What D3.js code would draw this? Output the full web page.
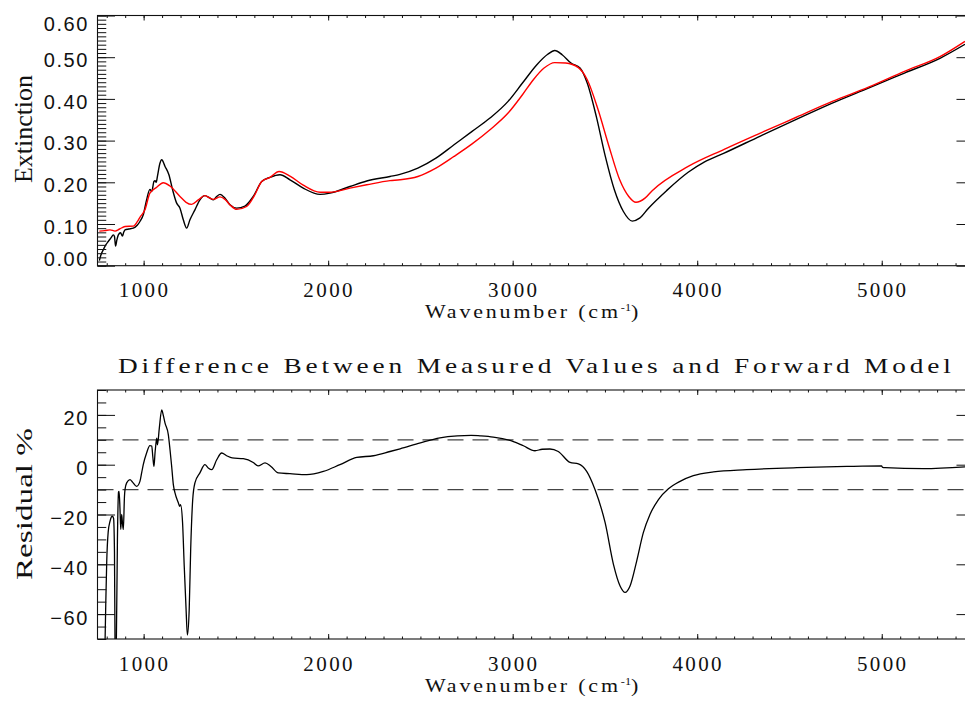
<!DOCTYPE html>
<html>
<head>
<meta charset="utf-8">
<script src="https://cdn.jsdelivr.net/npm/d3@7/dist/d3.min.js"></script>
<style>
  body { margin: 0; background: #fff; }
  svg { display: block; }
</style>
</head>
<body>
<svg id="chart" width="965" height="703"></svg>
<script>
// ---- Measured extinction spectrum (black) ----
const measuredWave = [760, 768, 781, 795, 808, 822, 836, 842, 848, 855, 863, 875, 885, 892, 899, 920, 944, 965, 980, 998,
  1016, 1034, 1044, 1056, 1062, 1068, 1075, 1088, 1098, 1116, 1137, 1157, 1179, 1197, 1215, 1233, 1251, 1278, 1305, 1332,
  1360, 1378, 1396, 1414, 1441, 1468, 1504, 1549, 1594, 1640, 1685, 1739, 1793, 1865, 1956, 2010, 2118, 2209, 2335, 2389,
  2486, 2584, 2682, 2780, 2877, 2975, 3053, 3131, 3190, 3228, 3268, 3316, 3365, 3404, 3453, 3502, 3551, 3600, 3648, 3688,
  3736, 3834, 3951, 4040, 4146, 4342, 4537, 4732, 4928, 5123, 5318, 5451];
const measuredExt = [0.012, 0.025, 0.038, 0.050, 0.058, 0.066, 0.074, 0.070, 0.047, 0.062, 0.074, 0.079, 0.071, 0.080, 0.086, 0.088, 0.090, 0.097, 0.106, 0.122,
  0.158, 0.183, 0.178, 0.202, 0.204, 0.200, 0.215, 0.245, 0.254, 0.238, 0.218, 0.182, 0.150, 0.138, 0.110, 0.090, 0.110, 0.134, 0.158, 0.168,
  0.162, 0.158, 0.166, 0.171, 0.162, 0.146, 0.138, 0.143, 0.166, 0.202, 0.212, 0.218, 0.206, 0.186, 0.171, 0.174, 0.190, 0.203, 0.214, 0.219,
  0.234, 0.258, 0.290, 0.322, 0.354, 0.394, 0.438, 0.482, 0.507, 0.516, 0.506, 0.486, 0.474, 0.438, 0.358, 0.262, 0.182, 0.130, 0.107, 0.114,
  0.138, 0.180, 0.224, 0.249, 0.270, 0.311, 0.351, 0.390, 0.426, 0.462, 0.498, 0.531];

// ---- Forward model (red) ----
const modelWave = [760, 790, 818, 845, 870, 899, 944, 965, 980, 1007, 1034, 1071, 1106, 1143, 1197, 1230, 1260, 1296, 1332, 1355,
  1378, 1414, 1441, 1470, 1504, 1558, 1600, 1640, 1685, 1734, 1793, 1865, 1956, 2010, 2118, 2209, 2335, 2389, 2486, 2584,
  2682, 2780, 2877, 2975, 3053, 3112, 3170, 3228, 3287, 3356, 3404, 3463, 3522, 3580, 3629, 3668, 3717, 3756, 3951, 4146,
  4342, 4537, 4732, 4928, 5123, 5318, 5451];
const modelExt = [0.083, 0.084, 0.086, 0.083, 0.088, 0.094, 0.095, 0.105, 0.116, 0.134, 0.174, 0.188, 0.199, 0.191, 0.166, 0.152, 0.147, 0.158, 0.168, 0.163,
  0.159, 0.165, 0.159, 0.145, 0.135, 0.142, 0.168, 0.202, 0.212, 0.226, 0.215, 0.193, 0.176, 0.176, 0.186, 0.194, 0.204, 0.206, 0.214, 0.234,
  0.262, 0.292, 0.326, 0.366, 0.410, 0.446, 0.474, 0.487, 0.486, 0.475, 0.446, 0.374, 0.286, 0.206, 0.166, 0.152, 0.162, 0.180, 0.238, 0.279,
  0.318, 0.356, 0.394, 0.428, 0.466, 0.502, 0.538];

// ---- Residual, percent ----
const residualWave = [760, 775, 790, 795, 800, 808, 818, 830, 837, 842, 845, 848, 852, 858, 864, 867, 872, 876, 881, 886,
  890, 896, 899, 908, 926, 940, 962, 980, 990, 998, 1016, 1034, 1044, 1050, 1056, 1062, 1065, 1071, 1075, 1085,
  1098, 1106, 1116, 1134, 1143, 1152, 1161, 1170, 1188, 1195, 1200, 1211, 1220, 1230, 1237, 1247, 1255, 1266, 1278, 1305,
  1332, 1350, 1369, 1396, 1423, 1450, 1480, 1540, 1594, 1620, 1658, 1690, 1730, 1793, 1884, 1974, 2064, 2155, 2245, 2335,
  2390, 2500, 2606, 2700, 2775, 2823, 2895, 3004, 3058, 3121, 3160, 3202, 3247, 3311, 3356, 3401, 3446, 3501, 3546, 3582,
  3609, 3636, 3672, 3708, 3744, 3790, 3844, 3907, 3979, 4088, 4268, 4540, 4811, 4999, 5005, 5018, 5226, 5452];
const residualPct = [-350, -150, -75, -55, -39, -27, -22.7, -20.7, -21.5, -35, -72, -80, -72, -30, -11, -10.7, -18, -26, -20, -24,
  -26, -13, -10, -7.3, -6, -7, -8.7, -6.7, -3, 0, 4.7, 7.7, 7.5, 3, -0.7, 5, 7.3, 10.7, 8, 14.7,
  22, 20, 16.7, 12, 6, -0.7, -8, -11.3, -15.3, -16.7, -16, -23.3, -40.7, -58, -68.4, -58, -34, -14, -7.3, -3.3,
  0, -1.3, -2, 2, 4.7, 3.6, 2.7, 2.4, 0.9, -0.5, 0.7, -0.7, -3.3, -3.6, -4, -2.7, 0, 2.9, 3.6, 5.3,
  6.4, 8.8, 10.8, 11.6, 11.8, 11.6, 11.1, 9.3, 7.6, 5.6, 6.2, 6.3, 5.3, 0.9, 0.3, -2.7, -10, -23.3, -40, -48.7,
  -51.3, -48.7, -38.7, -27.3, -20, -14, -9.7, -6.7, -4.4, -2.9, -2, -1.2, -0.7, -0.5, -1.1, -1.2, -1.6, -0.9];

// ---- Axis ticks and labels ----
const waveMajor = [1000, 2000, 3000, 4000, 5000];
const waveLabels = ["1000", "2000", "3000", "4000", "5000"];
const extMajor = [0, 0.1, 0.2, 0.3, 0.4, 0.5, 0.6];
const extLabels = ["0.00", "0.10", "0.20", "0.30", "0.40", "0.50", "0.60"];
const resMajor = [-60, -40, -20, 0, 20];
const resLabels = ["\u221260", "\u221240", "\u221220", "0", "20"];
const residualBands = [-10, 10];

const svg = d3.select("#chart");
svg.append("rect").attr("width", 965).attr("height", 703).attr("fill", "#fff");

const left = 97.5, right = 974;
const panels = {
  top: { top: 15.5, bottom: 265.7 },
  bot: { top: 390, bottom: 639 }
};

const x = d3.scaleLinear().domain([750, 5500]).range([left, right]);
const yExt = d3.scaleLinear().domain([0, 0.6]).range([panels.top.bottom, panels.top.top]);
const yRes = d3.scaleLinear().domain([-70, 30]).range([panels.bot.bottom, panels.bot.top]);

const waveMinor = d3.range(800, 5501, 100);

// Wide, evenly spaced lettering: stretch glyphs by k and pad the rest with letter spacing.
function spread(t, x0, y0, width, k) {
  t.attr("letter-spacing", 0).attr("transform", null);
  const n = t.text().length;
  const w0 = t.node().getComputedTextLength();
  t.attr("letter-spacing", (width / k - w0) / n)
   .attr("transform", `translate(${x0},${y0}) scale(${k},1)`);
}

function frame(g, y, yMinor, yMajorVals, p) {
  const w = right - left, h = p.bottom - p.top;
  const xMaj = h * 0.02, yMaj = w * 0.02;
  // x ticks, bottom and top, pointing inward
  g.append("g").attr("transform", `translate(0,${p.bottom})`)
    .call(d3.axisBottom(x).tickValues(waveMinor).tickSize(-xMaj / 2).tickFormat(""));
  g.append("g").attr("transform", `translate(0,${p.bottom})`)
    .call(d3.axisBottom(x).tickValues(waveMajor).tickSize(-xMaj).tickFormat(""));
  g.append("g").attr("transform", `translate(0,${p.top})`)
    .call(d3.axisTop(x).tickValues(waveMinor).tickSize(-xMaj / 2).tickFormat(""));
  g.append("g").attr("transform", `translate(0,${p.top})`)
    .call(d3.axisTop(x).tickValues(waveMajor).tickSize(-xMaj).tickFormat(""));
  // y ticks, left and right, pointing inward
  g.append("g").attr("transform", `translate(${left},0)`)
    .call(d3.axisLeft(y).tickValues(yMinor).tickSize(-yMaj / 2).tickFormat(""));
  g.append("g").attr("transform", `translate(${left},0)`)
    .call(d3.axisLeft(y).tickValues(yMajorVals).tickSize(-yMaj).tickFormat(""));
  g.append("g").attr("transform", `translate(${right},0)`)
    .call(d3.axisRight(y).tickValues(yMinor).tickSize(-yMaj / 2).tickFormat(""));
  g.append("g").attr("transform", `translate(${right},0)`)
    .call(d3.axisRight(y).tickValues(yMajorVals).tickSize(-yMaj).tickFormat(""));
  g.selectAll(".domain").remove();
  g.selectAll(".tick line").attr("stroke", "#111").attr("stroke-width", 1);
  g.append("rect")
    .attr("x", left).attr("y", p.top)
    .attr("width", right - left).attr("height", p.bottom - p.top)
    .attr("fill", "none").attr("stroke", "#111").attr("stroke-width", 1.1);
}

function xLabels(g, p) {
  g.selectAll("text.xl").data(waveMajor).join("text")
    .attr("class", "xl")
    .attr("x", d => x(d) + 1)
    .attr("y", p.bottom + 31.5)
    .attr("text-anchor", "middle")
    .attr("font-family", "Liberation Serif, serif")
    .attr("font-size", 21)
    .attr("letter-spacing", 2.4)
    .attr("fill", "#111")
    .text((d, i) => waveLabels[i]);
  const t = g.append("text")
    .attr("font-family", "Liberation Serif, serif")
    .attr("font-size", 18).attr("fill", "#111");
  t.append("tspan").text("Wavenumber (cm");
  t.append("tspan").attr("font-size", 10).attr("dy", -7).attr("letter-spacing", 0).text("-1");
  t.append("tspan").attr("dy", 7).text(")");
  spread(t, 425, p.bottom + 52.5, 222, 1.22);
}

function yLabels(g, y, vals, labels, p, off) {
  g.selectAll("text.yl").data(vals).join("text")
    .attr("class", "yl")
    .attr("x", 89)
    .attr("y", d => Math.min(Math.max(y(d) + off, p.top + 8), p.bottom - 7))
    .attr("dominant-baseline", "central")
    .attr("text-anchor", "end")
    .attr("font-family", "Liberation Sans, sans-serif")
    .attr("font-size", 20)
    .attr("letter-spacing", 1.6)
    .attr("fill", "#111")
    .text((d, i) => labels[i]);
}

function yTitle(g, text, cy, len, size) {
  g.append("text")
    .attr("transform", `translate(32,${cy}) rotate(-90)`)
    .attr("text-anchor", "middle")
    .attr("font-family", "Liberation Serif, serif")
    .attr("font-size", size)
    .attr("textLength", len)
    .attr("lengthAdjust", "spacingAndGlyphs")
    .attr("fill", "#111")
    .text(text);
}

// clip regions
const defs = svg.append("defs");
["top", "bot"].forEach(k => {
  defs.append("clipPath").attr("id", "clip-" + k).append("rect")
    .attr("x", left).attr("y", panels[k].top)
    .attr("width", right - left).attr("height", panels[k].bottom - panels[k].top);
});

// ---------- upper panel: extinction ----------
const gTop = svg.append("g");
const line = (ys) => d3.line().x(d => x(d[0])).y(d => ys(d[1])).curve(d3.curveMonotoneX);
const measured = measuredWave.map((w, i) => [w, measuredExt[i]]);
const model = modelWave.map((w, i) => [w, modelExt[i]]);
const gTopPlot = gTop.append("g").attr("clip-path", "url(#clip-top)");
gTopPlot.append("path").datum(measured).attr("d", line(yExt))
  .attr("fill", "none").attr("stroke", "#000").attr("stroke-width", 1.4);
gTopPlot.append("path").datum(model).attr("d", line(yExt))
  .attr("fill", "none").attr("stroke", "#ff0000").attr("stroke-width", 1.4);
frame(gTop, yExt, d3.range(0, 0.6001, 0.01).map(v => +v.toFixed(2)), extMajor, panels.top);
xLabels(gTop, panels.top);
yLabels(gTop, yExt, extMajor, extLabels, panels.top, 2.7);
yTitle(gTop, "Extinction", 129, 108, 25);

// ---------- lower panel: residual ----------
const gBot = svg.append("g");
const gBotPlot = gBot.append("g").attr("clip-path", "url(#clip-bot)");
gBotPlot.selectAll("line.band").data(residualBands).join("line")
  .attr("class", "band")
  .attr("x1", left).attr("x2", right)
  .attr("y1", d => yRes(d)).attr("y2", d => yRes(d))
  .attr("stroke", "#444").attr("stroke-width", 1.3)
  .attr("stroke-dasharray", "16,9");
const residual = residualWave.map((w, i) => [w, residualPct[i]]);
gBotPlot.append("path").datum(residual).attr("d", line(yRes))
  .attr("fill", "none").attr("stroke", "#000").attr("stroke-width", 1.3);
frame(gBot, yRes, d3.range(-70, 31, 5), resMajor, panels.bot);
xLabels(gBot, panels.bot);
yLabels(gBot, yRes, resMajor, resLabels, panels.bot, 3.5);
yTitle(gBot, "Residual %", 504, 152, 23.5);

const title = svg.append("text")
  .attr("font-family", "Liberation Serif, serif")
  .attr("font-size", 21)
  .attr("fill", "#111")
  .text("Difference Between Measured Values and Forward Model");
spread(title, 118, 372.5, 837, 1.3);
</script>
</body>
</html>
